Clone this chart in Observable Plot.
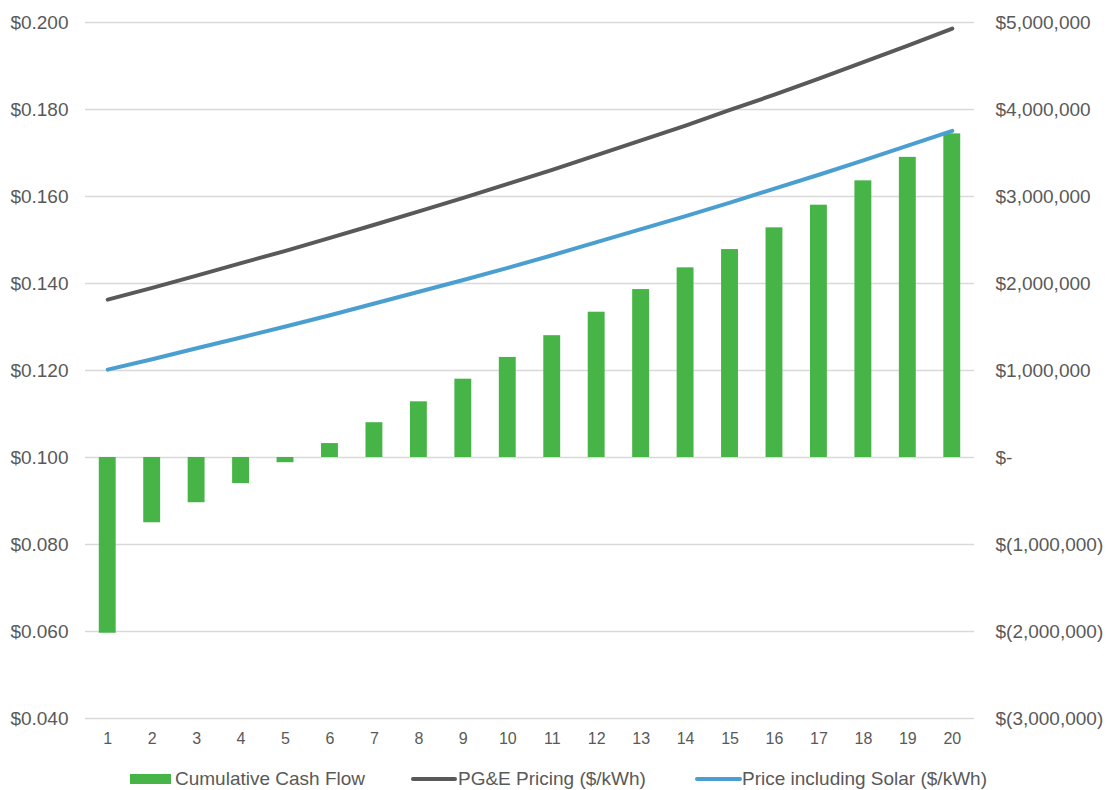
<!DOCTYPE html>
<html>
<head>
<meta charset="utf-8">
<script src="https://cdn.jsdelivr.net/npm/d3@7"></script>
<script src="https://cdn.jsdelivr.net/npm/@observablehq/plot@0.6"></script>
<style>
  html, body { margin: 0; padding: 0; background: #fff; }
  body { width: 1108px; height: 790px; overflow: hidden; font-family: "Liberation Sans", Arial, sans-serif; position: relative; }
  #legend { position: absolute; left: 0; top: 767px; width: 1108px; height: 24px; font-size: 19px; color: #595959; }
  .sw { position: absolute; }
  .lt { position: absolute; top: 0; line-height: 24px; white-space: nowrap; }
</style>
</head>
<body>
<div id="chart"></div>
<div id="legend">
  <span class="sw" style="left:130px;top:7px;width:41px;height:10px;background:#46b446"></span>
  <span class="lt" style="left:175px">Cumulative Cash Flow</span>
  <span class="sw" style="left:411px;top:10px;width:46px;height:4px;border-radius:2px;background:#595959"></span>
  <span class="lt" style="left:458px">PG&amp;E Pricing ($/kWh)</span>
  <span class="sw" style="left:695px;top:10px;width:47px;height:4px;border-radius:2px;background:#4a9fd0"></span>
  <span class="lt" style="left:742px">Price including Solar ($/kWh)</span>
</div>
<script>
const years = [1,2,3,4,5,6,7,8,9,10,11,12,13,14,15,16,17,18,19,20];
const cashFlow = [-2020000,-750000,-520000,-300000,-60000,160000,400000,640000,900000,1150000,1400000,1670000,1930000,2180000,2390000,2640000,2900000,3180000,3450000,3720000];
const pgePrice = [0.1363,0.1390,0.1418,0.1447,0.1475,0.1505,0.1535,0.1566,0.1597,0.1629,0.1661,0.1695,0.1729,0.1763,0.1799,0.1834,0.1871,0.1909,0.1947,0.1986];
const solarPrice = [0.1202,0.1226,0.1251,0.1276,0.1301,0.1327,0.1354,0.1381,0.1408,0.1436,0.1465,0.1495,0.1525,0.1555,0.1586,0.1618,0.1650,0.1683,0.1717,0.1751];
const leftTicks = [0.04,0.06,0.08,0.10,0.12,0.14,0.16,0.18,0.20];

// map right axis ($) onto left axis ($/kWh): $0 -> 0.100, $1,000,000 -> +0.020
const toLeft = v => 0.1 + v / 1e6 * 0.02;
const fromLeft = p => Math.round((p - 0.1) / 0.02 * 1e6);

const rows = years.map((yr, i) => ({year: yr, cf: toLeft(cashFlow[i]), pge: pgePrice[i], solar: solarPrice[i]}));

const fmtRight = p => {
  const v = fromLeft(p);
  if (v === 0) return "$-";
  const s = d3.format(",")(Math.abs(v));
  return v < 0 ? "$(" + s + ")" : "$" + s;
};

const chart = Plot.plot({
  width: 1108,
  height: 756,
  marginLeft: 85,
  marginRight: 134,
  marginTop: 22,
  marginBottom: 38,
  style: {fontFamily: "Liberation Sans, Arial, sans-serif", color: "#595959", background: "#fff"},
  x: {type: "band", domain: years, paddingInner: 0.62, paddingOuter: 0.31, round: false, label: null},
  y: {domain: [0.04, 0.2], label: null},
  marks: [
    Plot.ruleY(leftTicks, {stroke: "#d9d9d9", strokeWidth: 1.3}),
    Plot.barY(rows, {x: "year", y1: 0.1, y2: "cf", fill: "#46b446"}),
    Plot.line(rows, {x: "year", y: "pge", stroke: "#595959", strokeWidth: 4, strokeLinecap: "round"}),
    Plot.line(rows, {x: "year", y: "solar", stroke: "#4a9fd0", strokeWidth: 4, strokeLinecap: "round"}),
    Plot.axisY(leftTicks, {anchor: "left", tickSize: 0, tickPadding: 17, fontSize: 19, tickFormat: d => "$" + d3.format(".3f")(d), label: null, fill: "#595959"}),
    Plot.axisY(leftTicks, {anchor: "right", tickSize: 0, tickPadding: 21, fontSize: 19, tickFormat: fmtRight, label: null, fill: "#595959"}),
    Plot.axisX({tickSize: 0, tickPadding: 14, fontSize: 16, label: null, fill: "#595959"})
  ]
});
document.getElementById("chart").appendChild(chart);
</script>
</body>
</html>
